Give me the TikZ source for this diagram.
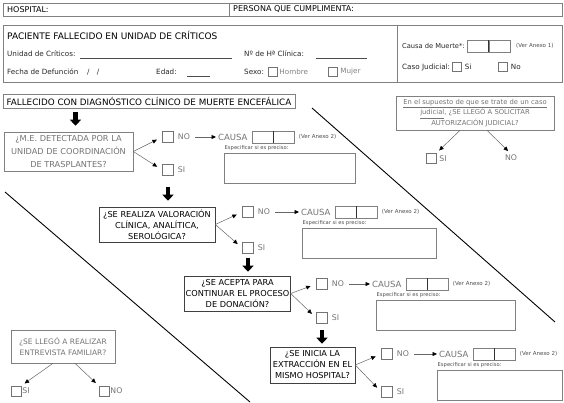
\documentclass[tikz,border=0pt]{standalone}
\usepackage{fontspec}
\setmainfont{DejaVu Sans}
\usetikzlibrary{arrows.meta,positioning}

\tikzset{
  marco/.style={draw=black!50, line width=0.6pt},
  txt/.style={font=\fontsize{8}{9}\selectfont, inner sep=1pt, anchor=west},
  lbl/.style={font=\fontsize{7.2}{8}\selectfont, text=black!85, inner sep=1pt, anchor=west},
  opc/.style={font=\fontsize{7.8}{9}\selectfont, text=black!55, inner sep=1pt},
  espec/.style={font=\fontsize{5.2}{6}\selectfont, text=black!70, inner sep=0.5pt},
  ver/.style={font=\fontsize{5.5}{6}\selectfont, text=black!70, inner sep=1pt},
  preg/.style={draw=black!75, line width=0.6pt, align=center, inner sep=1pt, font=\fontsize{8.2}{11}\selectfont},
  chk/.style={draw=black!55, line width=0.5pt, minimum size=11pt, inner sep=0pt},
  chkp/.style={chk, minimum size=9pt},
  cbox/.style={draw=black!50, line width=0.5pt, minimum width=21pt, minimum height=12pt, inner sep=0pt},
  flecha/.style={draw=black!60, line width=0.5pt, -{Triangle[width=4pt,length=4.5pt,color=black]}},
  gorda/.style={line width=4.5pt, -{Triangle[width=11pt,length=6pt]}},
  diag/.style={line width=0.9pt}
}

\begin{document}
\begin{tikzpicture}[x=1pt,y=-1pt]
  \useasboundingbox (0,0) rectangle (564,402);

  % Cabecera
  \draw[marco] (3,3) rectangle (229,16);
  \draw[marco] (229,3) rectangle (562,16);
  \node[txt] (hosp) at (6,9.5) {HOSPITAL:};
  \node[txt] (pers) at (232,9.5) {PERSONA QUE CUMPLIMENTA:};

  % Paciente fallecido
  \draw[marco] (3,25) rectangle (562,82);
  \draw[marco] (397,25) -- (397,82);
  \node[txt, font=\fontsize{9}{10}\selectfont] (pac) at (6,35) {PACIENTE FALLECIDO EN UNIDAD DE CRÍTICOS};
  \node[lbl] (unid) at (6,54) {Unidad de Críticos:};
  \draw[black!70] (80,58) -- (232,58);
  \node[lbl] (nhc) at (243,54) {Nº de Hª Clínica:};
  \draw[black!70] (316,58) -- (367,58);
  \node[lbl] (fdef) at (6,72) {Fecha de Defunción};
  \node[lbl] (fbar) at (86,72) {/\quad/};
  \node[lbl] (edad) at (155,72) {Edad:};
  \draw[black!70] (187,76) -- (210,76);
  \node[lbl] (sexo) at (243,72) {Sexo:};
  \node[chkp] (hom) at (272.5,72) {};
  \node[lbl, text=black!50, right=1pt of hom] (thom) {Hombre};
  \node[chkp] (muj) at (332.5,72) {};
  \node[lbl, text=black!50, right=2pt of muj] (tmuj) {Mujer};

  \node[lbl, font=\fontsize{6.7}{8}\selectfont] (cmuerte) at (401,46) {Causa de Muerte*:};
  \node[cbox, anchor=west] (cm1) at (467,46) {};
  \node[cbox, right=0pt of cm1] (cm2) {};
  \draw[black!80] (cm1.north east) -- (cm1.south east);
  \node[ver, anchor=west] (ver0) at (515,46) {(Ver Anexo 1)};
  \node[lbl] (cjud) at (401,67) {Caso Judicial:};
  \node[chkp] (cjsi) at (457,67) {};
  \node[lbl, right=2pt of cjsi] (tcjsi) {Si};
  \node[chkp] (cjno) at (503,67) {};
  \node[lbl, right=2pt of cjno] (tcjno) {No};

  % Muerte encefalica
  \node[marco, minimum width=292pt, minimum height=14pt, inner sep=1pt,
        font=\fontsize{8.8}{9}\selectfont] (encef) at (149,101)
        {FALLECIDO CON DIAGNÓSTICO CLÍNICO DE MUERTE ENCEFÁLICA};

  % Preguntas
  \node[preg, draw=black!50, text=black!55, minimum width=129pt, minimum height=39pt,
        font=\fontsize{8.2}{13}\selectfont] (q1) at (68.5,151.5)
        {¿M.E. DETECTADA POR LA\\UNIDAD DE COORDINACIÓN\\DE TRASPLANTES?};
  \node[preg, minimum width=116pt, minimum height=35pt] (q2) at (157,224.5)
        {¿SE REALIZA VALORACIÓN\\CLÍNICA, ANALÍTICA,\\SEROLÓGICA?};
  \node[preg, minimum width=105pt, minimum height=35pt] (q3) at (237.5,293.5)
        {¿SE ACEPTA PARA\\CONTINUAR EL PROCESO\\DE DONACIÓN?};
  \node[preg, minimum width=85pt, minimum height=36pt] (q4) at (312.5,365)
        {¿SE INICIA LA\\EXTRACCIÓN EN EL\\MISMO HOSPITAL?};

  % Opciones NO / SI
  \foreach \i/\x/\yn/\ys in {1/168/137/170, 2/248/212/248, 3/322/284/318, 4/387/354/392}{
    \node[chk] (no\i) at (\x,\yn) {};
    \node[opc, right=3pt of no\i] (tno\i) {NO};
    \node[chk] (si\i) at (\x,\ys) {};
    \node[opc, right=3pt of si\i] (tsi\i) {SI};
    \draw[flecha, shorten >=6pt] (q\i.east) -- (no\i.west);
    \draw[flecha, shorten >=6pt] (q\i.east) -- (si\i.west);
  }

  % Causa
  \foreach \i/\x/\y/\xb/\w in {1/217/137/224/131, 2/300/212/302/134, 3/371/284/376/139, 4/438/354/437/125}{
    \node[opc, anchor=west, font=\fontsize{8.5}{9}\selectfont] (causa\i) at (\x,\y) {CAUSA};
    \node[cbox, right=3pt of causa\i] (ca\i) {};
    \node[cbox, right=0pt of ca\i] (cb\i) {};
    \draw[black!80] (ca\i.north east) -- (ca\i.south east);
    \node[ver, right=3pt of cb\i] (ver\i) {(Ver Anexo 2)};
    \node[espec, anchor=west] (esp\i) at (\xb,\y+11) {Especificar si es preciso:};
    \draw[marco] (\xb,\y+16) rectangle ++(\w,30);
    \draw[flecha, shorten <=4pt, shorten >=1pt] (tno\i) -- (causa\i);
  }

  % Flechas gordas
  \coordinate (h1) at ([xshift=7pt]q1.north);
  \draw[gorda, shorten <=4pt, shorten >=6pt] (h1 |- encef.south) -- (h1);
  \draw[gorda, shorten <=11pt, shorten >=6pt] (si1.south) -- (si1.south |- q2.north);
  \draw[gorda, shorten <=4.5pt, shorten >=4pt] (si2.south) -- (si2.south |- q3.north);
  \draw[gorda, shorten <=6.5pt, shorten >=3pt] (si3.south) -- (si3.south |- q4.north);

  % Caso judicial
  \node[marco, text=black!55, align=center, font=\fontsize{6.8}{10.5}\selectfont,
        minimum width=158pt, minimum height=34pt, inner sep=1pt] (jud) at (475,113)
        {\underline{En el supuesto de que se trate de un caso}\\\underline{judicial}, ¿SE LLEGÓ A SOLICITAR\\AUTORIZACIÓN JUDICIAL?};
  \node[chk, minimum size=10pt] (jsi) at (431,158.5) {};
  \node[opc, right=2pt of jsi] (tjsi) {SI};
  \node[opc] (tjno) at (511,158) {NO};
  \draw[flecha, shorten >=4pt] ([xshift=-15pt]jud.south) -- (jsi.north east);
  \draw[flecha, shorten >=4pt] ([xshift=12pt]jud.south) -- (tjno.north);

  % Entrevista familiar
  \node[marco, text=black!55, align=center, font=\fontsize{7.5}{11}\selectfont,
        minimum width=104pt, minimum height=33pt, inner sep=1pt] (entr) at (63,346.5)
        {¿SE LLEGÓ A REALIZAR\\ENTREVISTA FAMILIAR?};
  \node[chk, minimum size=10pt] (esi) at (16,391) {};
  \node[opc, right=0pt of esi] (tesi) {SI};
  \node[chk, minimum size=10pt] (eno) at (104,391) {};
  \node[opc, right=0pt of eno] (teno) {NO};
  \draw[flecha, shorten >=4pt] ([xshift=-10pt]entr.south) -- (esi.north east);
  \draw[flecha, shorten >=4pt] ([xshift=12pt]entr.south) -- (eno.north west);

  % Diagonales
  \draw[diag] (312,108) -- (555,322);
  \draw[diag] (5,192) -- (250,402);

\end{tikzpicture}
\end{document}
